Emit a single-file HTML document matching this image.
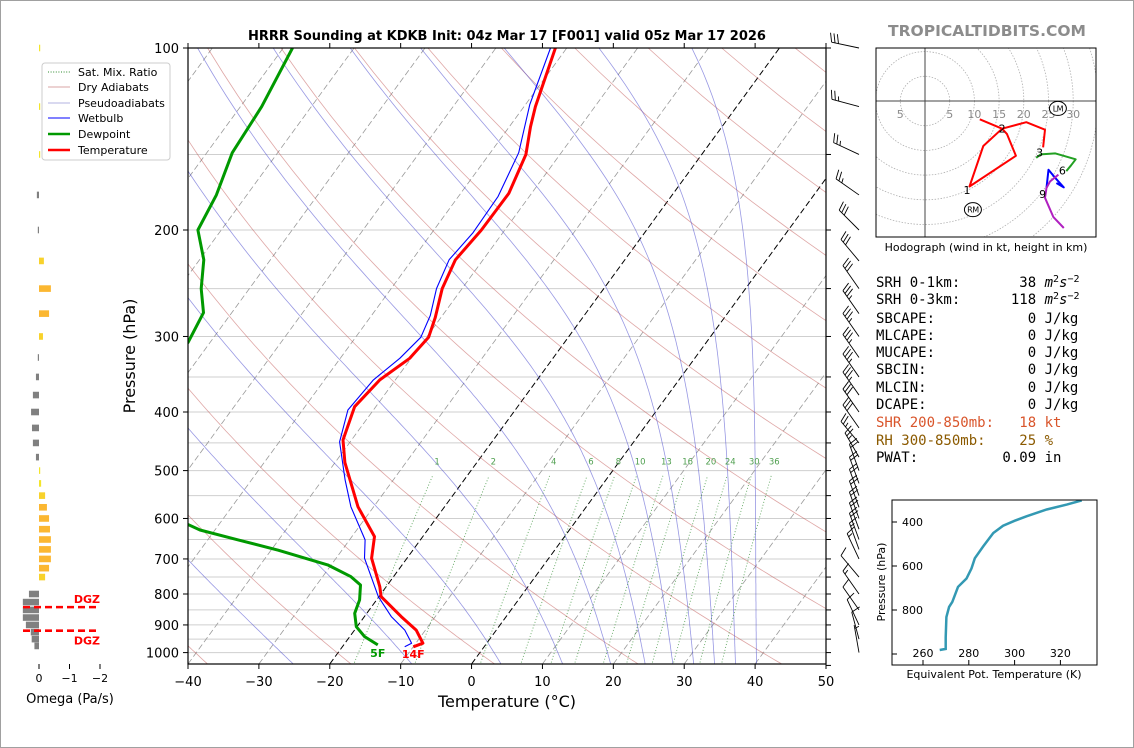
<!DOCTYPE html>
<html><head><meta charset="utf-8"><title>HRRR Sounding KDKB</title>
<style>
html,body{margin:0;padding:0;background:#fff;}
svg{display:block;font-family:"DejaVu Sans","Liberation Sans",sans-serif;}
</style></head>
<body>
<svg id="chart" xmlns="http://www.w3.org/2000/svg" width="1134" height="748" viewBox="0 0 1134 748">
<rect x="0.5" y="0.5" width="1133" height="747" fill="#fff" stroke="#a0a0a0"/>
<defs>
<clipPath id="mainClip"><rect x="188" y="48" width="638" height="616"/></clipPath>
<clipPath id="hodoClip"><rect x="876" y="48" width="220" height="189"/></clipPath>
<clipPath id="teClip"><rect x="892" y="500" width="205" height="165"/></clipPath>
</defs>
<text x="507" y="40" text-anchor="middle" font-size="13" font-weight="bold">HRRR Sounding at KDKB Init: 04z Mar 17 [F001] valid 05z Mar 17 2026</text>
<text x="987" y="36" text-anchor="middle" font-size="15.5" font-weight="bold" fill="#8c8c8c">TROPICALTIDBITS.COM</text>
<g id="bg" clip-path="url(#mainClip)"></g>
<g id="prof" clip-path="url(#mainClip)"></g>
<rect x="188" y="48" width="638" height="616" fill="none" stroke="#000" stroke-width="1.2"/>
<g id="axes"></g>
<text x="0" y="0" transform="translate(135,356) rotate(-90)" text-anchor="middle" font-size="16">Pressure (hPa)</text>
<text x="507" y="707" text-anchor="middle" font-size="16">Temperature (°C)</text>
<g id="barbs"></g>
<g id="omega"></g>
<g id="hodo"></g>
<g id="te"></g>
<g>
<rect x="42" y="63" width="128" height="97" rx="3" fill="#fff" stroke="#cccccc"/>
<line x1="48" y1="72" x2="70" y2="72" stroke="#2e8b2e" stroke-dasharray="1,1.6"/>
<text x="78" y="76" font-size="11">Sat. Mix. Ratio</text>
<line x1="48" y1="87" x2="70" y2="87" stroke="#d9a6a6"/>
<text x="78" y="91" font-size="11">Dry Adiabats</text>
<line x1="48" y1="103" x2="70" y2="103" stroke="#b3b3e0"/>
<text x="78" y="107" font-size="11">Pseudoadiabats</text>
<line x1="48" y1="118" x2="70" y2="118" stroke="#0000ff"/>
<text x="78" y="122" font-size="11">Wetbulb</text>
<line x1="48" y1="134" x2="70" y2="134" stroke="#009900" stroke-width="2.5"/>
<text x="78" y="138" font-size="11">Dewpoint</text>
<line x1="48" y1="150" x2="70" y2="150" stroke="#ff0000" stroke-width="2.5"/>
<text x="78" y="154" font-size="11">Temperature</text>
</g>
<g font-family="'DejaVu Sans Mono','Liberation Mono',monospace" font-size="14">
<text x="876" y="287" xml:space="preserve">SRH 0-1km:       38 <tspan font-style="italic">m</tspan><tspan font-size="10" dy="-5">2</tspan><tspan font-style="italic" dy="5">s</tspan><tspan font-size="10" dy="-5">−2</tspan></text>
<text x="876" y="304" xml:space="preserve">SRH 0-3km:      118 <tspan font-style="italic">m</tspan><tspan font-size="10" dy="-5">2</tspan><tspan font-style="italic" dy="5">s</tspan><tspan font-size="10" dy="-5">−2</tspan></text>
<text x="876" y="323" xml:space="preserve">SBCAPE:           0 J/kg</text>
<text x="876" y="340" xml:space="preserve">MLCAPE:           0 J/kg</text>
<text x="876" y="357" xml:space="preserve">MUCAPE:           0 J/kg</text>
<text x="876" y="374" xml:space="preserve">SBCIN:            0 J/kg</text>
<text x="876" y="392" xml:space="preserve">MLCIN:            0 J/kg</text>
<text x="876" y="409" xml:space="preserve">DCAPE:            0 J/kg</text>
<text x="876" y="427" xml:space="preserve" fill="#d9552b">SHR 200-850mb:   18 kt</text>
<text x="876" y="445" xml:space="preserve" fill="#8b5a00">RH 300-850mb:    25 %</text>
<text x="876" y="462" xml:space="preserve">PWAT:          0.09 in</text>
</g>
<script>
// ---------- data ----------
const tempP=[100,125,135,150,174,200,224,250,279,301,326,354,392,445,485,574,643,698,778,808,872,918,965,978];
const tempT=[-51.6,-48.4,-47.0,-44.8,-43.2,-43.3,-43.9,-42.8,-40.8,-39.7,-40.2,-42.2,-43.0,-41.2,-38.6,-32.2,-26.8,-25.0,-20.9,-19.7,-14.8,-11.3,-9.0,-10.0];
const wetP=[100,124,149,176,202,224,250,277,301,326,354,397,448,518,574,651,698,808,872,918,965,978];
const wetT=[-52.3,-49.4,-46.0,-44.4,-44.2,-44.8,-43.6,-41.7,-40.8,-41.6,-43.1,-43.6,-41.5,-36.8,-33.2,-27.8,-26.0,-20.1,-16.2,-12.9,-10.6,-11.2];
const dewP=[100,125,149,175,200,224,250,274,307,400,500,612,627,651,677,716,749,773,818,861,906,941,971];
const dewT=[-88.7,-87.0,-86.4,-84.3,-83.3,-79.4,-76.8,-74.0,-73.1,-95,-90,-54.7,-52.1,-45.7,-39.0,-30.5,-26.0,-23.8,-22.4,-21.7,-20.1,-17.9,-15.2];
const sfcTempLabel="14F";
const sfcDewLabel="5F";
const xTickLabels=[-40,-30,-20,-10,0,10,20,30,40,50];
const yTickLabels=[100,200,300,400,500,600,700,800,900,1000];
const mixRatios=[1,2,4,6,8,10,13,16,20,24,30,36];
const moistStarts=[-60,-45,-28,-11,2,11,18,23,27,30,33,36,39];
const windP=[100,125,150,175,200,225,250,275,300,325,350,375,400,425,450,475,500,525,550,575,600,625,650,675,700,750,800,850,900,950,1000];
const windDir=[282,285,295,305,315,320,325,325,325,325,325,325,325,325,320,330,340,340,340,340,340,340,340,340,335,320,325,325,335,345,350];
const windSpd=[30,25,25,25,30,30,30,35,35,35,35,35,30,30,25,25,20,20,20,20,20,20,20,15,15,10,15,10,10,10,5];
const omegaP=[100,125,150,175,200,225,250,275,300,325,350,375,400,425,450,475,500,525,550,575,600,625,650,675,700,725,750,775,800,825,850,875,900,925,950,975];
const omegaV=[-0.02,-0.03,-0.03,0.07,0.03,-0.16,-0.39,-0.33,-0.13,0.03,0.1,0.2,0.26,0.23,0.2,0.1,-0.02,-0.07,-0.2,-0.26,-0.33,-0.36,-0.39,-0.39,-0.39,-0.33,-0.2,0,0.33,0.53,0.53,0.53,0.43,0.27,0.24,0.15];
const omegaTicks=[0,-1,-2];
const dgzTopP=841, dgzBotP=920;
const thetaeP=[982,977,924,832,786,763,695,657,611,565,511,450,417,394,374,343,321,302];
const thetaeK=[267.3,269.9,269.9,270.2,271.4,272.8,275.3,279.0,281.2,282.6,286.3,290.7,295.0,300.1,305.2,314.0,322.8,329.3];
const teXTicks=[260,280,300,320];
const teYTicks=[400,600,800];
const hodoRedU=[11.1,15.6,16.6,18.4,9.0,11.8,15.6,20.5,24.3,23.9];
const hodoRedV=[-3.7,-5.6,-6.7,-11.1,-17.3,-9.1,-5.6,-4.3,-5.8,-9.4];
const hodoGreenU=[22.5,23.4,26.4,30.5,29.6,28.6];
const hodoGreenV=[-11.5,-10.8,-10.6,-11.8,-13.0,-14.2];
const hodoBlueU=[24.6,25.0,26.4,28.1,26.6];
const hodoBlueV=[-17.6,-13.9,-15.6,-17.5,-16.6];
const hodoPurpleU=[27.0,25.3,24.6,24.3,26.0,28.1];
const hodoPurpleV=[-14.9,-16.3,-17.6,-19.6,-23.5,-25.7];
const hodoLabels=["1","2","3","6","9"];
const hodoLabelU=[8.5,15.6,23.2,27.8,23.8];
const hodoLabelV=[-18.0,-5.6,-10.4,-14.1,-18.8];
const stormLabels=["LM","RM"];
const stormU=[26.9,9.7];
const stormV=[-1.5,-22.0];
const hodoRings=[5,10,15,20,25,30,35];

// ---------- helpers ----------
const NS="http://www.w3.org/2000/svg";
const svg=document.getElementById('chart');
function mk(tag,attrs,parent){const e=document.createElementNS(NS,tag);for(const k in attrs)e.setAttribute(k,attrs[k]);parent.appendChild(e);return e;}
const X0=188,PXC=638/90,YB=664,SKEW=0.73;
function yP(p){return 48+604.6*(Math.log10(p)-2);}
function xT(T,p){return X0+(T+40)*PXC+SKEW*(YB-yP(p));}
function pathFrom(pts){return pts.map((q,i)=>(i?'L':'M')+q[0].toFixed(1)+' '+q[1].toFixed(1)).join(' ');}

const bg=document.getElementById('bg');
const prof=document.getElementById('prof');
const axes=document.getElementById('axes');

for(let p=100;p<=1050;p+=50){
  const y=yP(p);
  const l=mk('line',{x1:188,x2:826,y1:y,y2:y,stroke:'#cfcfcf','stroke-width':1},bg);
  
  
}
for(let T=-150;T<=50;T+=10){
  const isBlack=(T===0||T===-20);
  const l=mk('line',{x1:xT(T,1044),y1:yP(1044),x2:xT(T,100),y2:yP(100),stroke:isBlack?'#000':'#9a9a9a','stroke-width':isBlack?1:0.8,'stroke-dasharray':'6,3'},bg);
  
  
}
for(let th=213;th<=520;th+=20){
  const pts=[];
  for(let p=1050;p>=100;p-=10){pts.push([xT(th*Math.pow(p/1000,0.2857)-273.15,p),yP(p)]);}
  const e=mk('path',{d:pathFrom(pts),fill:'none',stroke:'#c0504d','stroke-opacity':0.5,'stroke-width':0.8},bg);
  
  
}
function dTdp(T,p){
  const Tc=T-273.15;const es=6.112*Math.exp(17.67*Tc/(Tc+243.5));const rs=0.622*es/(p-es);
  const Lv=2.501e6,Rd=287.04,Cp=1005.7;
  return (Rd*T+Lv*rs)/(p*(Cp+Lv*Lv*rs*0.622/(Rd*T*T)));
}
moistStarts.forEach(t0=>{
  const up=[];let T=t0+273.15;
  for(let p=1000;p>=100;p-=5){up.push([xT(T-273.15,p),yP(p)]);T-=dTdp(T,p)*5;}
  const dn=[];T=t0+273.15;
  for(let p=1000;p<=1050;p+=5){dn.unshift([xT(T-273.15,p),yP(p)]);T+=dTdp(T,p)*5;}
  const e=mk('path',{d:pathFrom(dn.concat(up)),fill:'none',stroke:'#4444cc','stroke-opacity':0.55,'stroke-width':0.8},bg);
  
  
});
function tdFromW(w,p){const e=w*p/(622+w);const a=Math.log(e/6.112);return 243.5*a/(17.67-a);}
mixRatios.forEach(w=>{
  const pts=[];
  for(let p=1050;p>=510;p-=10){pts.push([xT(tdFromW(w,p),p),yP(p)]);}
  const e=mk('path',{d:pathFrom(pts),fill:'none',stroke:'#2e8b2e','stroke-opacity':0.75,'stroke-width':0.9,'stroke-dasharray':'1,2'},bg);
  
  
  const t=mk('text',{x:xT(tdFromW(w,490),490),y:yP(490)-1,'font-size':8.5,fill:'#4f9f4f','text-anchor':'middle'},bg);
  t.textContent=String(w);
  
  
});
function drawProfile(P,T,color,w,name){
  const pts=P.map((p,i)=>[xT(T[i],p),yP(p)]);
  const e=mk('path',{d:pathFrom(pts),fill:'none',stroke:color,'stroke-width':w,'stroke-linejoin':'round'},prof);
  
  
}
drawProfile(dewP,dewT,'#009900',3,'dewpoint-line');
drawProfile(wetP,wetT,'#0000ff',1.1,'wetbulb-line');
drawProfile(tempP,tempT,'#ff0000',3,'temperature-line');
{
  const li=dewP.length-1;
  const t=mk('text',{x:xT(dewT[li],dewP[li]),y:yP(dewP[li])+12,'font-size':11,'font-weight':'bold',fill:'#009900','text-anchor':'middle'},svg);
  t.textContent=sfcDewLabel;
  
  
  const lt=tempP.length-1;
  const t2=mk('text',{x:xT(tempT[lt],tempP[lt]),y:yP(tempP[lt])+11,'font-size':11,'font-weight':'bold',fill:'#ff0000','text-anchor':'middle'},svg);
  t2.textContent=sfcTempLabel;
  
  
}
xTickLabels.forEach(T=>{
  const x=X0+(T+40)*PXC;
  const tk=mk('line',{x1:x,x2:x,y1:664,y2:669,stroke:'#000'},axes);
  
  
  const tk2=mk('line',{x1:x,x2:x,y1:48,y2:43,stroke:'#000'},axes);
  
  
  const t=mk('text',{x:x,y:686,'font-size':13,'text-anchor':'middle'},axes);
  t.textContent=(T<0?'−':'')+Math.abs(T);
  
  
});
yTickLabels.forEach(p=>{
  const y=yP(p);
  const tk=mk('line',{x1:183,x2:188,y1:y,y2:y,stroke:'#000'},axes);
  
  
  const t=mk('text',{x:179,y:y+5,'font-size':13,'text-anchor':'end'},axes);
  t.textContent=String(p);
  
  
});
for(let p=100;p<=1050;p+=50){
  const y=yP(p);
  const tk=mk('line',{x1:826,x2:831,y1:y,y2:y,stroke:'#000'},axes);
  
  
}
const barbs=document.getElementById('barbs');
windP.forEach((p,i)=>{
  const bx=859,by=yP(p);const d=windDir[i]*Math.PI/180;
  const ux=Math.sin(d),uy=-Math.cos(d);const px=-uy,py=ux;
  const L=28;const tx=bx+ux*L,ty=by+uy*L;
  const g=mk('g',{stroke:'#000','stroke-width':0.9,fill:'none'},barbs);
  
  
  mk('line',{x1:bx,y1:by,x2:tx,y2:ty},g);
  let s=windSpd[i];let k=0;
  while(s>=10){const sx=tx-ux*k*3.5,sy=ty-uy*k*3.5;mk('line',{x1:sx,y1:sy,x2:sx+px*9+ux*3,y2:sy+py*9+uy*3},g);s-=10;k++;}
  if(s>=5){if(k===0)k=1;const sx=tx-ux*k*3.5,sy=ty-uy*k*3.5;mk('line',{x1:sx,y1:sy,x2:sx+px*4.5+ux*1.5,y2:sy+py*4.5+uy*1.5},g);}
});
const om=document.getElementById('omega');
const OX=39,OS=30.5;
function omColor(v){const a=Math.abs(v);if(v>0)return '#808080';if(a<0.12)return '#f3e52b';if(a<0.25)return '#f8d22b';return '#fbb731';}
omegaP.forEach((p,i)=>{
  const v=omegaV[i];if(v===0)return;
  const y=yP(p);const w=Math.max(Math.abs(v)*OS,1.2);
  const x=v>0?OX-w:OX;
  const r=mk('rect',{x:x,y:y-3.3,width:w,height:6.6,fill:omColor(v)},om);
  
  
});
[dgzTopP,dgzBotP].forEach((p,i)=>{
  const y=yP(p);
  const l=mk('line',{x1:23,x2:98,y1:y,y2:y,stroke:'#ff0000','stroke-width':2.6,'stroke-dasharray':'7,4'},om);
  
  
  const t=mk('text',{x:100,y:i===0?y-4:y+14,'font-size':11,'font-weight':'bold',fill:'#ff0000','text-anchor':'end'},om);
  t.textContent='DGZ';
  
  
});
omegaTicks.forEach(v=>{
  const x=OX-v*OS;
  const tk=mk('line',{x1:x,x2:x,y1:664,y2:669,stroke:'#000'},om);
  
  
  const t=mk('text',{x:x,y:682,'font-size':11,'text-anchor':'middle'},om);
  t.textContent=v<0?'−'+Math.abs(v):String(v);
  
  
});
{const t=mk('text',{x:70,y:703,'font-size':13,'text-anchor':'middle'},om);
t.textContent='Omega (Pa/s)';

}
const hodo=document.getElementById('hodo');
const HX=925,HY=101,HS=4.94;
function hx(u){return HX+u*HS;} function hy(v){return HY-v*HS;}
const hc=mk('g',{'clip-path':'url(#hodoClip)'},hodo);


hodoRings.forEach(r=>{
  const c=mk('circle',{cx:HX,cy:HY,r:r*HS,fill:'none',stroke:'#b0b0b0','stroke-width':0.8,'stroke-dasharray':'1.5,1.5'},hc);
  
  
});
{const a=mk('line',{x1:876,x2:1096,y1:HY,y2:HY,stroke:'#444','stroke-width':1},hc);


const b=mk('line',{x1:HX,x2:HX,y1:48,y2:237,stroke:'#444','stroke-width':1},hc);

}
[-5,5,10,15,20,25,30].forEach(r=>{
  const t=mk('text',{x:hx(r),y:HY+17,'font-size':11,fill:'#8a8a8a','text-anchor':'middle'},hc);
  t.textContent=String(Math.abs(r));
  
  
});
function hodoLine(U,V,color,name){
  const e=mk('path',{d:pathFrom(U.map((u,i)=>[hx(u),hy(V[i])])),fill:'none',stroke:color,'stroke-width':2,'stroke-linejoin':'round'},hc);
  
  
}
hodoLine(hodoRedU,hodoRedV,'#ff0000','hodograph-0-3km');
hodoLine(hodoGreenU,hodoGreenV,'#22a022','hodograph-3-6km');
hodoLine(hodoBlueU,hodoBlueV,'#0000ff','hodograph-6-9km');
hodoLine(hodoPurpleU,hodoPurpleV,'#b020c0','hodograph-9-12km');
hodoLabels.forEach((s,i)=>{
  const t=mk('text',{x:hx(hodoLabelU[i]),y:hy(hodoLabelV[i])+4,'font-size':11,'text-anchor':'middle'},hc);
  t.textContent=s;
  
  
});
stormLabels.forEach((s,i)=>{
  const e=mk('ellipse',{cx:hx(stormU[i]),cy:hy(stormV[i]),rx:8.5,ry:7,fill:'#fff',stroke:'#000','stroke-width':1},hc);
  
  
  const t=mk('text',{x:hx(stormU[i]),y:hy(stormV[i])+3,'font-size':8,'text-anchor':'middle','letter-spacing':'-0.5'},hc);
  t.textContent=s;
  
  
});
{const f=mk('rect',{x:876,y:48,width:220,height:189,fill:'none',stroke:'#000','stroke-width':1},hodo);


const t=mk('text',{x:986,y:251,'font-size':11,'text-anchor':'middle'},hodo);
t.textContent='Hodograph (wind in kt, height in km)';

}
const te=document.getElementById('te');
function tx(K){return 923+(K-260)*2.29;} function ty(p){return 522+(p-400)*0.22;}
{const e=mk('path',{d:pathFrom(thetaeP.map((p,i)=>[tx(thetaeK[i]),ty(p)])),fill:'none',stroke:'#3399b3','stroke-width':2.5,'clip-path':'url(#teClip)'},te);


const f=mk('rect',{x:892,y:500,width:205,height:165,fill:'none',stroke:'#000','stroke-width':1},te);

}
teXTicks.forEach(k=>{
  const x=tx(k);
  const tk=mk('line',{x1:x,x2:x,y1:665,y2:660,stroke:'#000'},te);
  
  
  const t=mk('text',{x:x,y:657,'font-size':11,'text-anchor':'middle'},te);
  t.textContent=String(k);
  
  
});
teYTicks.concat([1000]).forEach(p=>{
  const y=ty(p);
  const tk=mk('line',{x1:892,x2:897,y1:y,y2:y,stroke:'#000'},te);
  
  
  if(p===1000)return;
  const t=mk('text',{x:902,y:y+4,'font-size':11},te);
  t.textContent=String(p);
  
  
});
{const t=mk('text',{x:0,y:0,transform:'translate(885,582) rotate(-90)','font-size':11,'text-anchor':'middle'},te);
t.textContent='Pressure (hPa)';


const t2=mk('text',{x:994,y:678,'font-size':11,'text-anchor':'middle'},te);
t2.textContent='Equivalent Pot. Temperature (K)';

}
</script>
</body></html>
